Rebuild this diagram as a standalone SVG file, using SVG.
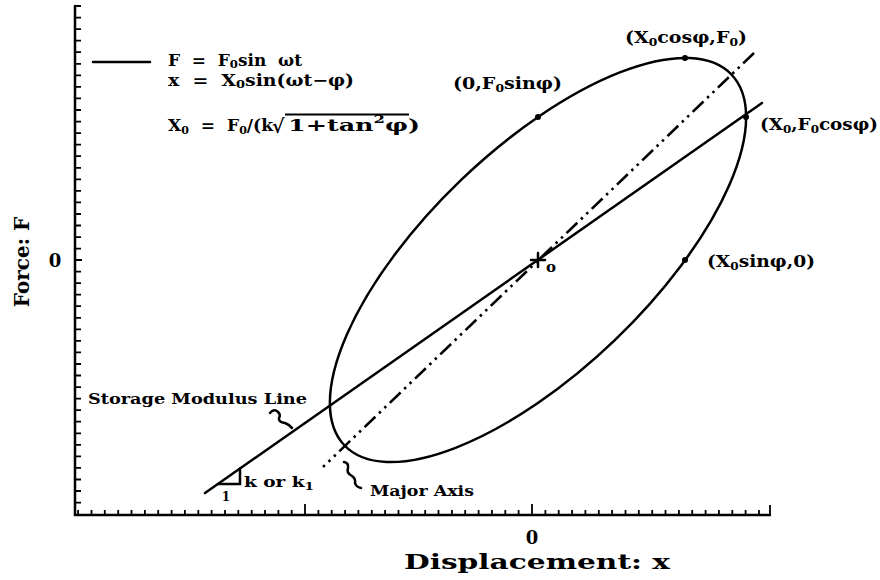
<svg xmlns="http://www.w3.org/2000/svg" width="880" height="580" viewBox="0 0 880 580">
<style>
.t{font-family:"DejaVu Serif","Liberation Serif",serif;font-weight:bold;fill:#000}
.s{font-size:11px}
.ln{stroke:#000;stroke-width:2.5;fill:none;stroke-linecap:round}
.tk{stroke:#000;stroke-width:1.8;fill:none}
.ax{stroke:#000;stroke-width:2.6;fill:none;stroke-dasharray:15 5 2.5 5 2.5 5}
</style>
<rect width="880" height="580" fill="#fff"/>
<g id="axes">
<path class="ln" d="M75,6 L75,515 L770,515"/>
<path class="tk" d="M75,6h6M75,17.6h6M75,29.1h6M75,40.7h6M75,52.2h6M75,63.8h6M75,75.3h6M75,86.9h6M75,98.4h6M75,110h6M75,121.6h6M75,133.1h6M75,144.7h6M75,156.2h6M75,167.8h6M75,179.3h6M75,190.9h6M75,202.4h6M75,214h6M75,225.5h6M75,237.1h6M75,248.6h6M75,260h7M75,271.6h6M75,283.1h6M75,294.7h6M75,306.2h6M75,317.8h6M75,329.3h6M75,340.9h6M75,352.4h6M75,364h6M75,375.5h6M75,387.1h6M75,398.6h6M75,410.2h6M75,421.7h6M75,433.3h6M75,444.8h6M75,456.4h6M75,467.9h6M75,479.5h6M75,491h6M75,502.6h6"/>
<path class="tk" d="M78.1,515v-5M91.5,515v-5M104.8,515v-5M118.2,515v-5M131.5,515v-5M144.9,515v-5M158.2,515v-5M171.6,515v-5M184.9,515v-5M198.3,515v-5M211.6,515v-5M225,515v-5M238.3,515v-5M251.7,515v-5M265,515v-5M278.4,515v-5M291.7,515v-5M305,515v-11M318.4,515v-5M331.7,515v-5M345.1,515v-5M358.4,515v-5M371.8,515v-5M385.1,515v-5M398.5,515v-5M411.8,515v-5M425.2,515v-5M438.5,515v-5M451.9,515v-5M465.2,515v-5M478.6,515v-5M491.9,515v-5M505.3,515v-5M518.6,515v-5M532,515v-11M545.4,515v-5M558.7,515v-5M572.1,515v-5M585.4,515v-5M598.8,515v-5M612.1,515v-5M625.5,515v-5M638.8,515v-5M652.2,515v-5M665.5,515v-5M678.9,515v-5M692.2,515v-5M705.6,515v-5M718.9,515v-5M732.3,515v-5M745.6,515v-5M759,515v-5M770,515v-10"/>
<text class="t" x="532" y="544" font-size="18" text-anchor="middle">0</text>
<text class="t" x="55" y="267" font-size="18" text-anchor="middle">0</text>
<text class="t" x="404" y="569" font-size="20" textLength="266" lengthAdjust="spacingAndGlyphs">Displacement: x</text>
<text class="t" transform="translate(29,262) rotate(-90)" x="0" y="0" font-size="20" text-anchor="middle">Force: F</text>
</g>
<g id="legend">
<path class="ln" d="M93,62H150"/>
<text class="t" x="168" y="66" font-size="16" textLength="134" lengthAdjust="spacingAndGlyphs" xml:space="preserve">F  =  F<tspan class="s" dy="2">0</tspan><tspan dy="-2">sin  ωt</tspan></text>
<text class="t" x="168" y="86" font-size="16" textLength="186" lengthAdjust="spacingAndGlyphs" xml:space="preserve">x  =  X<tspan class="s" dy="2">0</tspan><tspan dy="-2">sin(ωt−φ)</tspan></text>
<text class="t" x="168" y="131" font-size="17" textLength="105" lengthAdjust="spacingAndGlyphs" xml:space="preserve">X<tspan class="s" dy="3">0</tspan><tspan dy="-3">  =  F</tspan><tspan class="s" dy="3">0</tspan><tspan dy="-3">/(k</tspan></text>
<text class="t" x="272" y="133" font-size="19">√</text>
<text class="t" x="288" y="131" font-size="17" textLength="132" lengthAdjust="spacingAndGlyphs">1+tan<tspan class="s" dy="-8">2</tspan><tspan dy="8">φ)</tspan></text>
<path d="M285,114.5H409" stroke="#000" stroke-width="2"/>
</g>
<g id="connectors">
<ellipse cx="538" cy="260" rx="268" ry="111" transform="rotate(-43.8 538 260)" class="ln"/>
<path class="ln" d="M205,493 L762,103"/>
<path class="ax" d="M754,53 L323,467"/>
<path class="ln" stroke-width="2" d="M538,253V267M531,260H545"/>
<path class="ln" stroke-width="2" d="M218,484H240V468.6"/>
<path class="ln" stroke-width="2" d="M270,413 q4,-5 8,-1 q3,3 1,6 q-1,4 6,5 q5,2 7,5"/>
<path class="ln" stroke-width="2" d="M344,462 q5,1 4,6 q-2,5 4,8 q4,3 3,7 q1,4 6,5"/>
</g>
<g id="points">
<circle cx="538" cy="117" r="3"/>
<circle cx="685" cy="58" r="3"/>
<circle cx="746" cy="117" r="3"/>
<circle cx="685" cy="260" r="3"/>
</g>
<g id="labels">
<text class="t" x="453" y="89" font-size="17" textLength="109" lengthAdjust="spacingAndGlyphs">(0,F<tspan class="s" dy="3">0</tspan><tspan dy="-3">sinφ)</tspan></text>
<text class="t" x="625" y="43" font-size="17" textLength="122" lengthAdjust="spacingAndGlyphs">(X<tspan class="s" dy="3">0</tspan><tspan dy="-3">cosφ,F</tspan><tspan class="s" dy="3">0</tspan><tspan dy="-3">)</tspan></text>
<text class="t" x="760" y="130" font-size="17" textLength="118" lengthAdjust="spacingAndGlyphs">(X<tspan class="s" dy="3">0</tspan><tspan dy="-3">,F</tspan><tspan class="s" dy="3">0</tspan><tspan dy="-3">cosφ)</tspan></text>
<text class="t" x="707" y="267" font-size="17" textLength="108" lengthAdjust="spacingAndGlyphs">(X<tspan class="s" dy="3">0</tspan><tspan dy="-3">sinφ,0)</tspan></text>
<text class="t" x="546" y="272" font-size="15">o</text>
<text class="t" x="88" y="404" font-size="15" textLength="219" lengthAdjust="spacingAndGlyphs">Storage Modulus Line</text>
<text class="t" x="244" y="487" font-size="15" textLength="70" lengthAdjust="spacingAndGlyphs">k or k<tspan class="s" dy="3">1</tspan></text>
<text class="t" x="226" y="501" font-size="12" text-anchor="middle">1</text>
<text class="t" x="370" y="496" font-size="15" textLength="104" lengthAdjust="spacingAndGlyphs">Major Axis</text>
</g>
</svg>
